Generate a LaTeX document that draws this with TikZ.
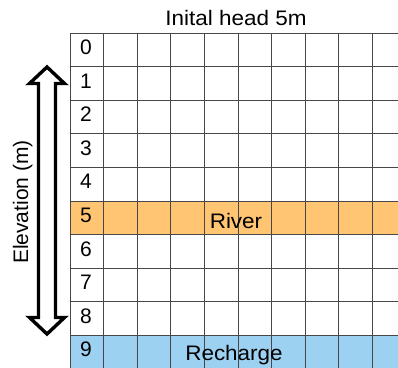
\documentclass[tikz,border=0pt]{standalone}
\usepackage{fontspec}
\setmainfont{Liberation Sans}
\definecolor{riverorange}{RGB}{255,197,114}
\definecolor{rechargeblue}{RGB}{157,209,241}
\begin{document}
\begin{tikzpicture}[x=1pt,y=-1pt,
  gridline/.style={draw=black!72,line width=0.9pt},
  lbl/.style={font=\fontsize{21}{25}\selectfont,inner sep=0pt},
  digit/.style={lbl,anchor=base west},
  blockarrow/.style={draw=black,line width=3.4pt,miter limit=20,fill=white}]
\useasboundingbox (0,0) rectangle (398,367);
\clip (0,0) rectangle (398,367);
% coloured layers
\fill[riverorange] (70,201) rectangle (410,234.6);
\fill[rechargeblue] (70,335.4) rectangle (410,370);
% grid
\foreach \k in {0,...,10}{
  \draw[gridline] ({70+33.6*\k},33) -- ({70+33.6*\k},370);
  \draw[gridline] (70,{33+33.6*\k}) -- (410,{33+33.6*\k});
}
% row numbers
\foreach \k in {0,...,9}{
  \node[digit] (d\k) at (80,{54.5+33.6*\k}) {\k};
}
% labels
\node[lbl,anchor=base] (title) at (236,25.7) {\scalebox{1.07}[1]{Inital head 5m}};
\node[lbl,anchor=base] (river) at (236,228.7) {\scalebox{1.07}[1]{River}};
\node[lbl,anchor=base] (recharge) at (234,360.5) {\scalebox{1.07}[1]{Recharge}};
\node[lbl,anchor=base,rotate=90] (elev) at (28,202) {Elevation (m)};
% double block arrow
\draw[blockarrow] (47,67) -- (64.5,83.5) -- (55.5,83.5) -- (55.5,317.5) -- (64.5,317.5)
  -- (47,334) -- (29.5,317.5) -- (38.5,317.5) -- (38.5,83.5) -- (29.5,83.5) -- cycle;
\end{tikzpicture}
\end{document}
